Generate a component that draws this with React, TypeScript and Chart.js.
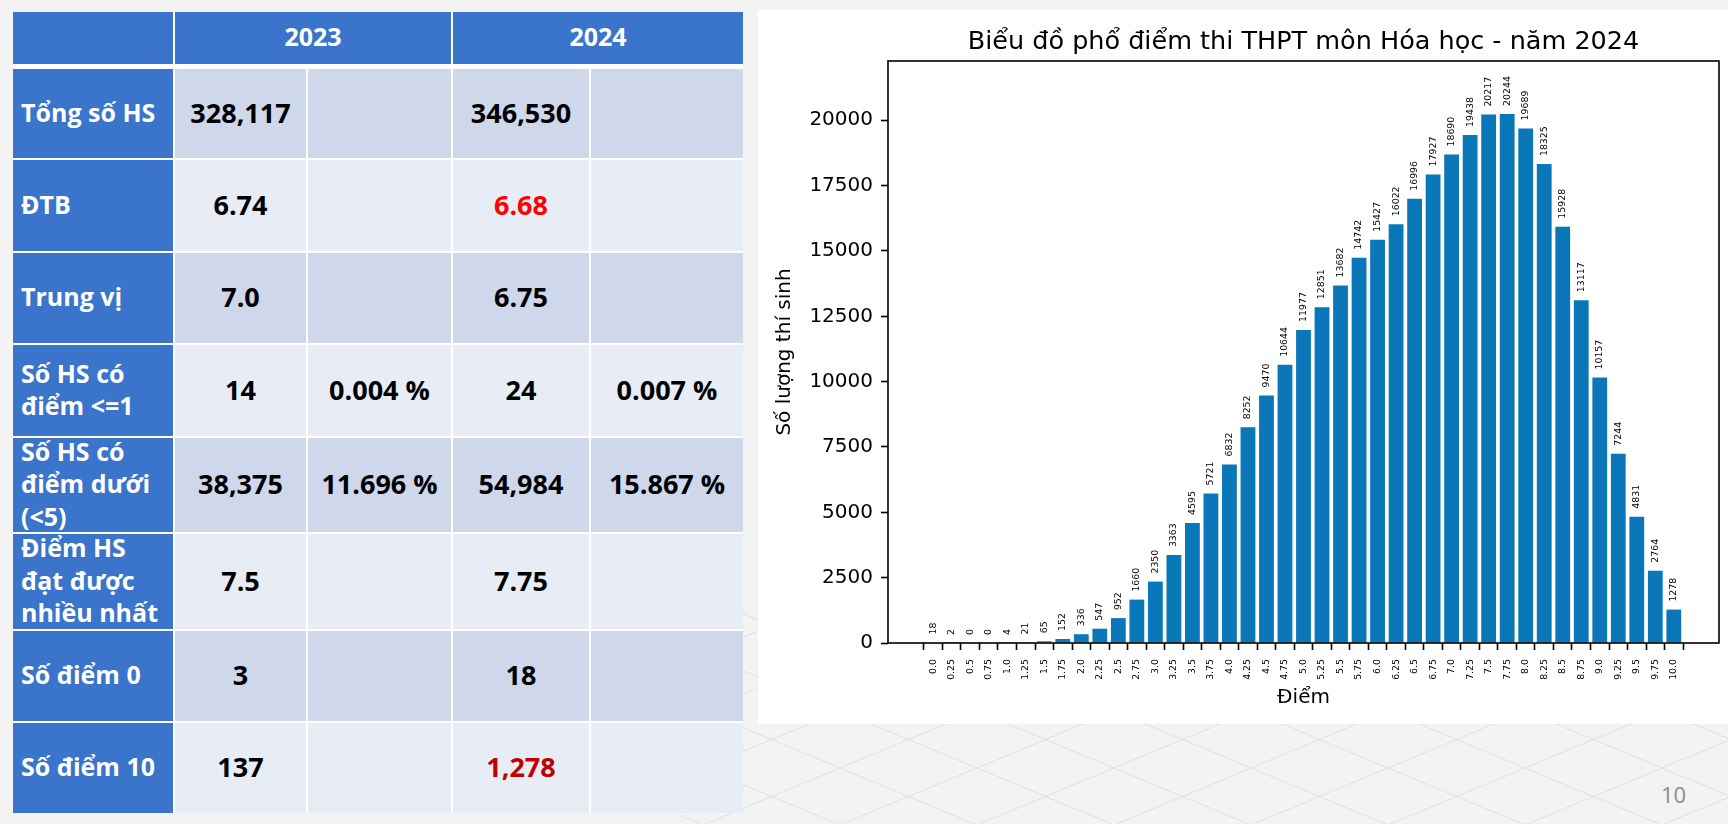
import React, { useEffect, useRef } from "react";
import { Chart, registerables } from "chart.js";

Chart.register(...registerables);

// ---------- Chart data ----------
const chartTitle = "Biểu đồ phổ điểm thi THPT môn Hóa học - năm 2024";
const xAxisTitle = "Điểm";
const yAxisTitle = "Số lượng thí sinh";

const scores = [
  0, 0.25, 0.5, 0.75, 1, 1.25, 1.5, 1.75, 2, 2.25, 2.5, 2.75, 3, 3.25, 3.5, 3.75,
  4, 4.25, 4.5, 4.75, 5, 5.25, 5.5, 5.75, 6, 6.25, 6.5, 6.75, 7, 7.25, 7.5, 7.75,
  8, 8.25, 8.5, 8.75, 9, 9.25, 9.5, 9.75, 10,
];

const scoreLabels = [
  "0.0", "0.25", "0.5", "0.75", "1.0", "1.25", "1.5", "1.75", "2.0", "2.25", "2.5",
  "2.75", "3.0", "3.25", "3.5", "3.75", "4.0", "4.25", "4.5", "4.75", "5.0", "5.25",
  "5.5", "5.75", "6.0", "6.25", "6.5", "6.75", "7.0", "7.25", "7.5", "7.75", "8.0",
  "8.25", "8.5", "8.75", "9.0", "9.25", "9.5", "9.75", "10.0",
];

const counts = [
  18, 2, 0, 0, 4, 21, 65, 152, 336, 547, 952, 1660, 2350, 3363, 4595, 5721,
  6832, 8252, 9470, 10644, 11977, 12851, 13682, 14742, 15427, 16022, 16996, 17927,
  18690, 19438, 20217, 20244, 19689, 18325, 15928, 13117, 10157, 7244, 4831, 2764, 1278,
];

const yTicks = [0, 2500, 5000, 7500, 10000, 12500, 15000, 17500, 20000];

// ---------- Table data ----------
const yearHeaders = ["2023", "2024"];
const rowLabels = [
  ["Tổng số HS"],
  ["ĐTB"],
  ["Trung vị"],
  ["Số HS có", "điểm <=1"],
  ["Số HS có", "điểm dưới", "(<5)"],
  ["Điểm HS", "đạt được", "nhiều nhất"],
  ["Số điểm 0"],
  ["Số điểm 10"],
];
const values2023 = ["328,117", "6.74", "7.0", "14", "38,375", "7.5", "3", "137"];
const percents2023 = ["", "", "", "0.004 %", "11.696 %", "", "", ""];
const values2024 = ["346,530", "6.68", "6.75", "24", "54,984", "7.75", "18", "1,278"];
const percents2024 = ["", "", "", "0.007 %", "15.867 %", "", "", ""];
const pageNumber = "10";

// ---------- Layout (positions / styles) ----------
const colX = [13, 175, 308, 453, 591];
const colW = [160, 131, 143, 136, 152];
const rowY = [69, 160, 253, 345, 438, 534, 631, 723];
const rowH = [89, 91, 90, 91, 94, 95, 90, 90];
const BLUE = "#3a74cb";
const BAND_DARK = "#cfd7ea";
const BAND_LIGHT = "#e8ecf5";
const highlight2024: Record<number, string> = { 1: "#ff0000", 7: "#c00000" };

const FONT_TABLE = "'Open Sans', 'Noto Sans', sans-serif";
const FONT_CHART = "'DejaVu Sans'";

function ChartPanel() {
  const ref = useRef<HTMLCanvasElement | null>(null);

  useEffect(() => {
    const canvas = ref.current;
    if (!canvas) return;

    const overlay = {
      id: "mplOverlay",
      afterDatasetsDraw(chart: any) {
        const ctx = chart.ctx;
        const meta = chart.getDatasetMeta(0);
        const { left, right, top, bottom } = chart.chartArea;
        ctx.save();
        // value labels
        ctx.fillStyle = "#000";
        ctx.font = `9.4px ${FONT_CHART}`;
        meta.data.forEach((bar: any, i: number) => {
          ctx.save();
          ctx.translate(bar.x, bar.y - 8);
          ctx.rotate(-Math.PI / 2);
          ctx.textAlign = "left";
          ctx.textBaseline = "middle";
          ctx.fillText(String(counts[i]), 0, 0);
          ctx.restore();
        });
        // spines
        ctx.strokeStyle = "#000";
        ctx.lineWidth = 1.6;
        ctx.strokeRect(left, top, right - left, bottom - top);
        // title
        ctx.font = `25.5px ${FONT_CHART}`;
        ctx.textAlign = "center";
        ctx.textBaseline = "alphabetic";
        ctx.fillText(chartTitle, (left + right) / 2, top - 12);
        ctx.restore();
      },
    };

    const chart = new Chart(canvas, {
      type: "bar",
      data: {
        datasets: [
          {
            data: scores.map((x, i) => ({ x, y: counts[i] })),
            backgroundColor: "#0a77b8",
            borderWidth: 0,
            barPercentage: 0.8,
            categoryPercentage: 1,
          },
        ],
      },
      options: {
        animation: false,
        responsive: false,
        maintainAspectRatio: false,
        devicePixelRatio: 1,
        layout: { padding: { top: 51, right: 9, left: 0, bottom: 0 } },
        plugins: {
          legend: { display: false },
          tooltip: { enabled: false },
          title: { display: false },
        },
        scales: {
          x: {
            type: "linear",
            min: -0.61,
            max: 10.61,
            offset: false,
            afterBuildTicks: (s: any) => {
              s.ticks = scores.map((v) => ({ value: v }));
            },
            afterFit: (s: any) => {
              s.height = 81;
            },
            ticks: {
              autoSkip: false,
              minRotation: 90,
              maxRotation: 90,
              padding: 9,
              color: "#000",
              font: { family: FONT_CHART, size: 9.4 },
              callback: (_v: any, i: number) => scoreLabels[i],
            },
            grid: {
              display: true,
              drawOnChartArea: false,
              drawTicks: true,
              tickLength: 7,
              tickWidth: 1.6,
              tickColor: "#000",
              color: "#000",
            },
            border: { display: false },
            title: {
              display: true,
              text: xAxisTitle,
              color: "#000",
              font: { family: FONT_CHART, size: 20 },
              padding: { top: 0, bottom: 14 },
            },
          },
          y: {
            type: "linear",
            min: 0,
            max: Math.max(...counts) * 1.1,
            afterBuildTicks: (s: any) => {
              s.ticks = yTicks.map((v) => ({ value: v }));
            },
            afterFit: (s: any) => {
              s.width = 130;
            },
            ticks: {
              padding: 8,
              color: "#000",
              font: { family: FONT_CHART, size: 20 },
              callback: (v: any) => String(v),
            },
            grid: {
              display: true,
              drawOnChartArea: false,
              drawTicks: true,
              tickLength: 7,
              tickWidth: 1.6,
              tickColor: "#000",
              color: "#000",
            },
            border: { display: false },
            title: {
              display: true,
              text: yAxisTitle,
              color: "#000",
              font: { family: FONT_CHART, size: 20 },
              padding: { top: 15, bottom: 0 },
            },
          },
        },
      },
      plugins: [overlay],
    } as any);

    return () => chart.destroy();
  }, []);

  return (
    <div
      style={{
        position: "absolute",
        left: 758,
        top: 10,
        width: 970,
        height: 714,
        background: "#ffffff",
      }}
    >
      <canvas ref={ref} width={970} height={714} style={{ width: 970, height: 714, display: "block" }} />
    </div>
  );
}

function Cell(props: {
  x: number;
  y: number;
  w: number;
  h: number;
  bg: string;
  color: string;
  size: number;
  align: "left" | "center";
  children: React.ReactNode;
  lineHeight?: number;
}) {
  return (
    <div
      style={{
        position: "absolute",
        left: props.x,
        top: props.y,
        width: props.w,
        height: props.h,
        background: props.bg,
        display: "flex",
        alignItems: "center",
        justifyContent: props.align === "center" ? "center" : "flex-start",
        paddingLeft: props.align === "left" ? 8 : 0,
        paddingBottom: 3,
        boxSizing: "border-box",
        fontFamily: FONT_TABLE,
        fontWeight: 700,
        fontSize: props.size,
        lineHeight: `${props.lineHeight ?? 33}px`,
        color: props.color,
        whiteSpace: "nowrap",
        textAlign: props.align,
        overflow: "visible",
      }}
    >
      {props.children}
    </div>
  );
}

function Table() {
  const cells: React.ReactNode[] = [];
  // header
  cells.push(<Cell key="h0" x={colX[0]} y={12} w={colW[0]} h={52} bg={BLUE} color="#fff" size={25} align="center">{""}</Cell>);
  cells.push(
    <Cell key="h1" x={colX[1]} y={12} w={colX[3] - colX[1] - 2} h={52} bg={BLUE} color="#fff" size={25} align="center">
      {yearHeaders[0]}
    </Cell>
  );
  cells.push(
    <Cell key="h2" x={colX[3]} y={12} w={743 - colX[3]} h={52} bg={BLUE} color="#fff" size={25} align="center">
      {yearHeaders[1]}
    </Cell>
  );
  rowLabels.forEach((lines, r) => {
    const band = r % 2 === 0 ? BAND_DARK : BAND_LIGHT;
    const y = rowY[r];
    const h = rowH[r];
    cells.push(
      <Cell key={`l${r}`} x={colX[0]} y={y} w={colW[0]} h={h} bg={BLUE} color="#fff" size={25} align="left" lineHeight={32.5}>
        <div>
          {lines.map((ln, k) => (
            <div key={k}>{ln}</div>
          ))}
        </div>
      </Cell>
    );
    const vals = [values2023[r], percents2023[r], values2024[r], percents2024[r]];
    vals.forEach((v, c) => {
      const color = c === 2 && highlight2024[r] ? highlight2024[r] : "#000";
      cells.push(
        <Cell key={`c${r}-${c}`} x={colX[c + 1]} y={y} w={colW[c + 1]} h={h} bg={band} color={color} size={27} align="center">
          {v}
        </Cell>
      );
    });
  });
  return (
    <div>
      <div style={{ position: "absolute", left: 13, top: 12, width: 730, height: 801, background: "#ffffff" }} />
      {cells}
    </div>
  );
}

function Background() {
  return (
    <svg width={1728} height={824} style={{ position: "absolute", left: 0, top: 0 }}>
      <defs>
        <pattern id="diamonds" width={137} height={57} patternUnits="userSpaceOnUse" x={840 % 137} y={768 % 57}>
          <path d="M0 0 L137 57 M0 57 L137 0" stroke="#e0e0e3" strokeWidth={1} fill="none" />
        </pattern>
      </defs>
      <rect x={0} y={0} width={1728} height={824} fill="#f3f3f4" />
      <rect x={680} y={600} width={1048} height={224} fill="url(#diamonds)" />
    </svg>
  );
}

export default function App() {
  return (
    <div
      style={{
        position: "fixed",
        left: 0,
        top: 0,
        width: 1728,
        height: 824,
        overflow: "hidden",
        background: "#f3f3f4",
      }}
    >
      <Background />
      <Table />
      <ChartPanel />
      <div
        style={{
          position: "absolute",
          left: 1661,
          top: 783,
          fontFamily: FONT_TABLE,
          fontSize: 22,
          lineHeight: "22px",
          color: "#8c8c8c",
        }}
      >
        {pageNumber}
      </div>
    </div>
  );
}
